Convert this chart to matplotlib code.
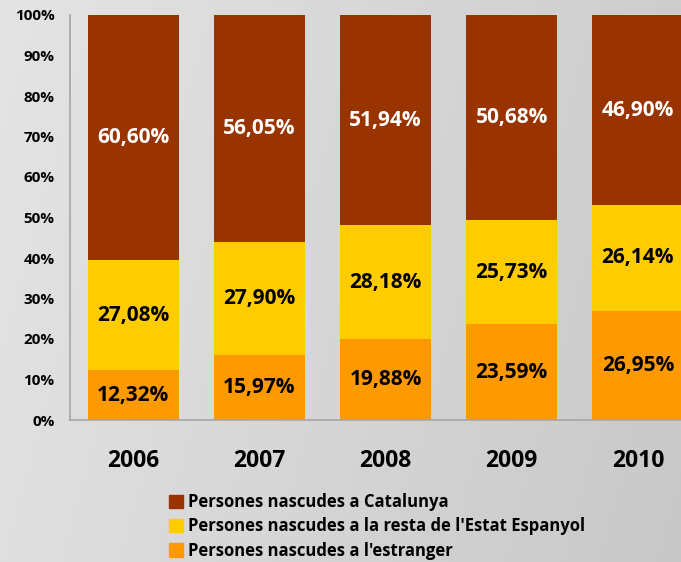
import numpy as np
import matplotlib
matplotlib.use("Agg")
import matplotlib.pyplot as plt
from matplotlib.patches import Rectangle

years = ["2006", "2007", "2008", "2009", "2010"]
estranger = [12.32, 15.97, 19.88, 23.59, 26.95]
resta_estat = [27.08, 27.90, 28.18, 25.73, 26.14]
catalunya = [60.60, 56.05, 51.94, 50.68, 46.90]
series_names = ["Persones nascudes a Catalunya",
                "Persones nascudes a la resta de l'Estat Espanyol",
                "Persones nascudes a l'estranger"]
colors = {"cat": "#993300", "resta": "#FFCC00", "estr": "#FF9900"}
yticks = [0, 10, 20, 30, 40, 50, 60, 70, 80, 90, 100]

FONT = ["Open Sans", "DejaVu Sans"]
plt.rcParams['font.family'] = FONT

W, H = 681, 562
fig = plt.figure(figsize=(W / 100, H / 100), dpi=100)

# background gradient
bg = fig.add_axes([0, 0, 1, 1], zorder=-10)
gx = np.linspace(0, 1, 256)
gy = np.linspace(0, 1, 256)
X, Y = np.meshgrid(gx, gy)
val = 0.895 - 0.09 * X - 0.02 * Y
img = np.dstack([val, val, val])
bg.imshow(img, aspect='auto', extent=[0, 1, 0, 1], origin='upper')
bg.axis('off')

ax = fig.add_axes([70 / W, (H - 420) / H, 631 / W, 405 / H])
ax.set_facecolor('none')

x = np.arange(len(years))
bw = 0.72
def fmt(v):
    return f"{v:.2f}".replace('.', ',') + "%"

ax.bar(x, estranger, bw, color=colors["estr"], zorder=2)
bottom2 = np.array(estranger)
ax.bar(x, resta_estat, bw, bottom=bottom2, color=colors["resta"], zorder=2)
bottom3 = bottom2 + np.array(resta_estat)
ax.bar(x, catalunya, bw, bottom=bottom3, color=colors["cat"], zorder=2)

LFS = 15
for i in range(len(years)):
    ax.text(x[i], estranger[i] / 2, fmt(estranger[i]), ha='center', va='center',
            fontsize=LFS, fontweight='bold', color='black', zorder=3)
    ax.text(x[i], bottom2[i] + resta_estat[i] / 2, fmt(resta_estat[i]), ha='center', va='center',
            fontsize=LFS, fontweight='bold', color='black', zorder=3)
    top_c = min(bottom3[i] + catalunya[i], 100)
    ax.text(x[i], (bottom3[i] + top_c) / 2, fmt(catalunya[i]), ha='center', va='center',
            fontsize=LFS, fontweight='bold', color='white', zorder=3)

ax.set_xlim(-0.5, len(years) - 0.5)
ax.set_ylim(0, 100)
ax.set_yticks(yticks)
ax.set_yticklabels([f"{t}%" for t in yticks], fontsize=11, fontweight='bold')
ax.set_xticks(x)
ax.set_xticklabels(years, fontsize=16.5, fontweight='bold')
ax.tick_params(axis='y', length=0, pad=11)
ax.tick_params(axis='x', length=0, pad=21)
for s in ['top', 'right']:
    ax.spines[s].set_visible(False)
for s in ['left', 'bottom']:
    ax.spines[s].set_color('#a6a6a6')
    ax.spines[s].set_linewidth(1.2)

handles = [Rectangle((0, 0), 1, 1, color=colors["cat"]),
           Rectangle((0, 0), 1, 1, color=colors["resta"]),
           Rectangle((0, 0), 1, 1, color=colors["estr"])]
leg = fig.legend(handles, series_names, loc='upper left',
                 bbox_to_anchor=(169 / W, 1 - 493 / H), frameon=False,
                 prop={'family': FONT, 'weight': 'bold', 'size': 12},
                 handlelength=0.85, handleheight=0.85, handletextpad=0.3,
                 labelspacing=0.38, borderaxespad=0, borderpad=0)

fig.savefig("out.png", dpi=100)
